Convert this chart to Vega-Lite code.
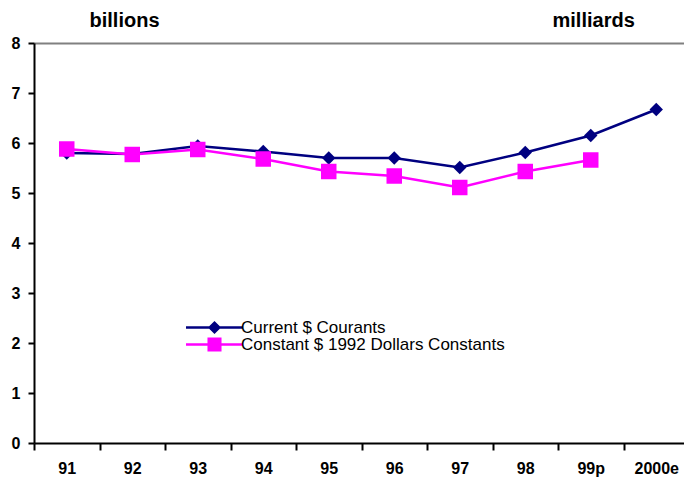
{
  "$schema": "https://vega.github.io/schema/vega-lite/v6.json",
  "width": 650,
  "height": 400,
  "autosize": "none",
  "padding": {"left": 34, "top": 43, "right": 0, "bottom": 39},
  "config": {"view": {"stroke": null}, "font": "Liberation Sans"},
  "data": {
    "values": [
      {"year": "91", "series": "Current $ Courants", "value": 5.8},
      {"year": "92", "series": "Current $ Courants", "value": 5.78},
      {"year": "93", "series": "Current $ Courants", "value": 5.94},
      {"year": "94", "series": "Current $ Courants", "value": 5.83},
      {"year": "95", "series": "Current $ Courants", "value": 5.7},
      {"year": "96", "series": "Current $ Courants", "value": 5.7},
      {"year": "97", "series": "Current $ Courants", "value": 5.51},
      {"year": "98", "series": "Current $ Courants", "value": 5.81},
      {"year": "99p", "series": "Current $ Courants", "value": 6.15},
      {"year": "2000e", "series": "Current $ Courants", "value": 6.67},
      {"year": "91", "series": "Constant $ 1992 Dollars Constants", "value": 5.88},
      {"year": "92", "series": "Constant $ 1992 Dollars Constants", "value": 5.77},
      {"year": "93", "series": "Constant $ 1992 Dollars Constants", "value": 5.87},
      {"year": "94", "series": "Constant $ 1992 Dollars Constants", "value": 5.68},
      {"year": "95", "series": "Constant $ 1992 Dollars Constants", "value": 5.43},
      {"year": "96", "series": "Constant $ 1992 Dollars Constants", "value": 5.34},
      {"year": "97", "series": "Constant $ 1992 Dollars Constants", "value": 5.11},
      {"year": "98", "series": "Constant $ 1992 Dollars Constants", "value": 5.43},
      {"year": "99p", "series": "Constant $ 1992 Dollars Constants", "value": 5.66}
    ]
  },
  "encoding": {
    "x": {
      "field": "year",
      "type": "ordinal",
      "sort": null,
      "scale": {"type": "band", "range": [0, 655], "paddingInner": 0, "paddingOuter": 0},
      "axis": {
        "title": "billions",
        "titleX": 55,
        "titleY": -417,
        "titleAlign": "left",
        "titleBaseline": "alphabetic",
        "titleAngle": 0,
        "titleFontSize": 20,
        "titleFontWeight": "bold",
        "titleColor": "#000000",
        "tickBand": "extent",
        "domainColor": "#000000",
        "domainWidth": 2,
        "tickColor": "#000000",
        "tickWidth": 2,
        "tickSize": 7,
        "labelAngle": 0,
        "labelFontSize": 16,
        "labelFontWeight": "bold",
        "labelColor": "#000000",
        "labelPadding": 10,
        "labelBaseline": "top"
      }
    },
    "y": {
      "field": "value",
      "type": "quantitative",
      "scale": {"domain": [0, 8], "nice": false},
      "axis": {
        "values": [0, 1, 2, 3, 4, 5, 6, 7, 8],
        "title": "milliards",
        "titleX": 518,
        "titleY": -17,
        "titleAlign": "left",
        "titleBaseline": "alphabetic",
        "titleAngle": 0,
        "titleFontSize": 20,
        "titleFontWeight": "bold",
        "titleColor": "#000000",
        "domainColor": "#000000",
        "domainWidth": 2,
        "tickColor": "#000000",
        "tickWidth": 2,
        "tickSize": 6,
        "labelFontSize": 16,
        "labelFontWeight": "bold",
        "labelColor": "#000000",
        "labelPadding": 8,
        "grid": true,
        "gridWidth": 2,
        "gridColor": {"condition": {"test": "datum.value === 8", "value": "#808080"}, "value": "transparent"}
      }
    },
    "color": {
      "field": "series",
      "type": "nominal",
      "sort": null,
      "scale": {
        "domain": ["Current $ Courants", "Constant $ 1992 Dollars Constants"],
        "range": ["#000080", "#FF00FF"]
      },
      "legend": {
        "orient": "none",
        "legendX": 172,
        "legendY": 276,
        "title": null,
        "padding": 0,
        "symbolSize": 144,
        "symbolStrokeWidth": 0,
        "symbolOffset": 0,
        "labelOffset": 18,
        "labelFontSize": 17,
        "labelLimit": 0,
        "labelColor": "#000000",
        "rowPadding": -5,
        "encoding": {
          "symbols": {
            "shape": {
              "condition": {"test": "datum.value === 'Current $ Courants'", "value": "M-4.75,-0.19H4.75V0.19H-4.75Z M0,-1.1L1.1,0L0,1.1L-1.1,0Z"},
              "value": "M-4.75,-0.19H4.75V0.19H-4.75Z M-1.17,-1.17H1.17V1.17H-1.17Z"
            },
            "fill": {
              "condition": {"test": "datum.value === 'Current $ Courants'", "value": "#000080"},
              "value": "#FF00FF"
            },
            "opacity": {"value": 1},
            "fillOpacity": {"value": 1}
          }
        }
      }
    }
  },
  "layer": [
    {"mark": {"type": "line", "strokeWidth": 2.5}},
    {
      "transform": [{"filter": "datum.series === 'Current $ Courants'"}],
      "mark": {"type": "point", "filled": true, "opacity": 1, "shape": "diamond", "size": 180}
    },
    {
      "transform": [{"filter": "datum.series === 'Constant $ 1992 Dollars Constants'"}],
      "mark": {"type": "point", "filled": true, "opacity": 1, "shape": "square", "size": 240}
    }
  ]
}
